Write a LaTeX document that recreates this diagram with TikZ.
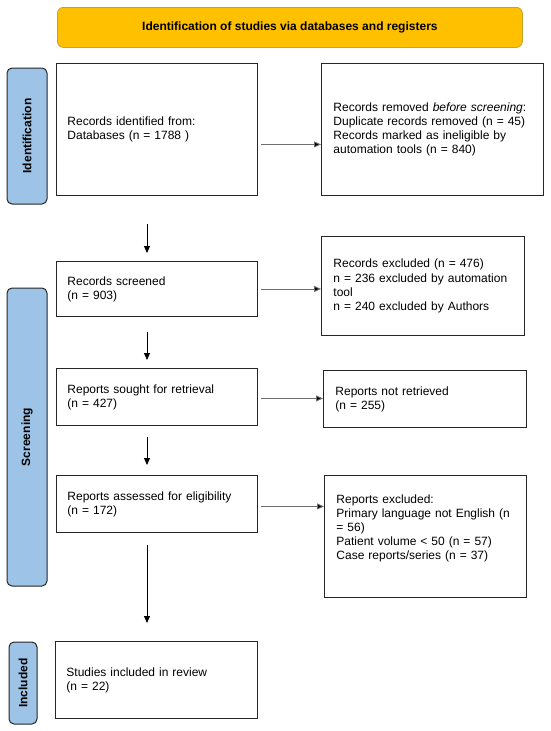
\documentclass[tikz,border=0pt]{standalone}
\usepackage{fontspec}
\setmainfont{Liberation Sans}
\usetikzlibrary{arrows.meta}
\definecolor{bannerfill}{HTML}{FFC000}
\definecolor{bannerdraw}{HTML}{C9A02A}
\definecolor{labfill}{HTML}{9DC3E6}
\definecolor{harrcol}{HTML}{6E6E6E}
\tikzset{
  txt/.style={font=\fontsize{12}{14.1}\selectfont},
  box/.style={txt, draw=black!85, line width=0.9pt, anchor=north west,
    inner ysep=0pt, align=left},
  lbox/.style={box, inner xsep=11pt},
  rbox/.style={box, inner xsep=12pt},
  banner/.style={anchor=north west, minimum width=465pt, minimum height=40pt,
    fill=bannerfill, draw=bannerdraw, line width=0.8pt, rounded corners=6pt,
    font=\fontsize{12}{14}\selectfont\bfseries},
  sidelab/.style={rotate=90, fill=labfill, draw=black!85, line width=1pt,
    rounded corners=5pt, inner sep=0pt, font=\fontsize{12}{14}\selectfont\bfseries},
  darr/.style={draw=black, line width=0.9pt, -{Triangle[length=7pt,width=6pt]}},
  harr/.style={draw=harrcol, line width=0.9pt, -{Triangle[length=7pt,width=6pt,fill=black]}, shorten <=3pt},
}
\begin{document}
\begin{tikzpicture}[x=1pt,y=-1pt]
\useasboundingbox (0,0) rectangle (550,731);

\node[banner] (ban) at (57,7) {Identification of studies via databases and registers};

\node[sidelab, minimum width=136pt, minimum height=40pt] (lid) at (27,136) {Identification};
\node[sidelab, minimum width=298pt, minimum height=40pt] (lsc) at (27,437) {Screening};
\node[sidelab, minimum width=82pt, minimum height=28pt] (lin) at (23,683) {Included};

\node[lbox, text width=179pt, minimum height=132pt] (b1) at (56,63)
  {Records identified from:\\Databases (n = 1788 )};
\node[rbox, text width=198pt, minimum height=132pt] (r1) at (321,63)
  {Records removed \textit{before screening}:\\Duplicate records removed (n = 45)\\Records marked as ineligible by\\automation tools (n = 840)};

\node[lbox, text width=179pt, minimum height=55pt] (b2) at (56,261)
  {Records screened\\(n = 903)};
\node[rbox, text width=179pt, minimum height=99pt] (r2) at (321,236)
  {Records excluded (n = 476)\\n = 236 excluded by automation\\tool\\n = 240 excluded by Authors};

\node[lbox, text width=179pt, minimum height=57pt] (b3) at (56,368)
  {Reports sought for retrieval\\(n = 427)};
\node[rbox, text width=179pt, minimum height=57pt] (r3) at (323,370)
  {Reports not retrieved\\(n = 255)};

\node[lbox, text width=179pt, minimum height=57pt] (b4) at (56,475)
  {Reports assessed for eligibility\\(n = 172)};
\node[rbox, text width=178pt, minimum height=122pt] (r4) at (324,475)
  {Reports excluded:\\Primary language not English (n\\= 56)\\Patient volume < 50 (n = 57)\\Case reports/series (n = 37)\\\strut};

\node[lbox, text width=180pt, minimum height=77pt] (b5) at (55,641)
  {Studies included in review\\(n = 22)};

\coordinate (ax) at (147,0);
\draw[darr, shorten <=28pt, shorten >=8pt] (b1.south -| ax) -- (b2.north -| ax);
\draw[darr, shorten <=15pt, shorten >=8pt] (b2.south -| ax) -- (b3.north -| ax);
\draw[darr, shorten <=11pt, shorten >=10pt] (b3.south -| ax) -- (b4.north -| ax);
\draw[darr, shorten <=12pt, shorten >=18pt] (b4.south -| ax) -- (b5.north -| ax);

\draw[harr] ([yshift=-15pt]b1.east) -- ([yshift=-15pt]b1.east -| r1.west);
\draw[harr] (b2.east) -- (b2.east -| r2.west);
\draw[harr] ([yshift=-1.5pt]b3.east) -- ([yshift=-1.5pt]b3.east -| r3.west);
\draw[harr] ([yshift=-2.5pt]b4.east) -- ([yshift=-2.5pt]b4.east -| r4.west);
\end{tikzpicture}
\end{document}
